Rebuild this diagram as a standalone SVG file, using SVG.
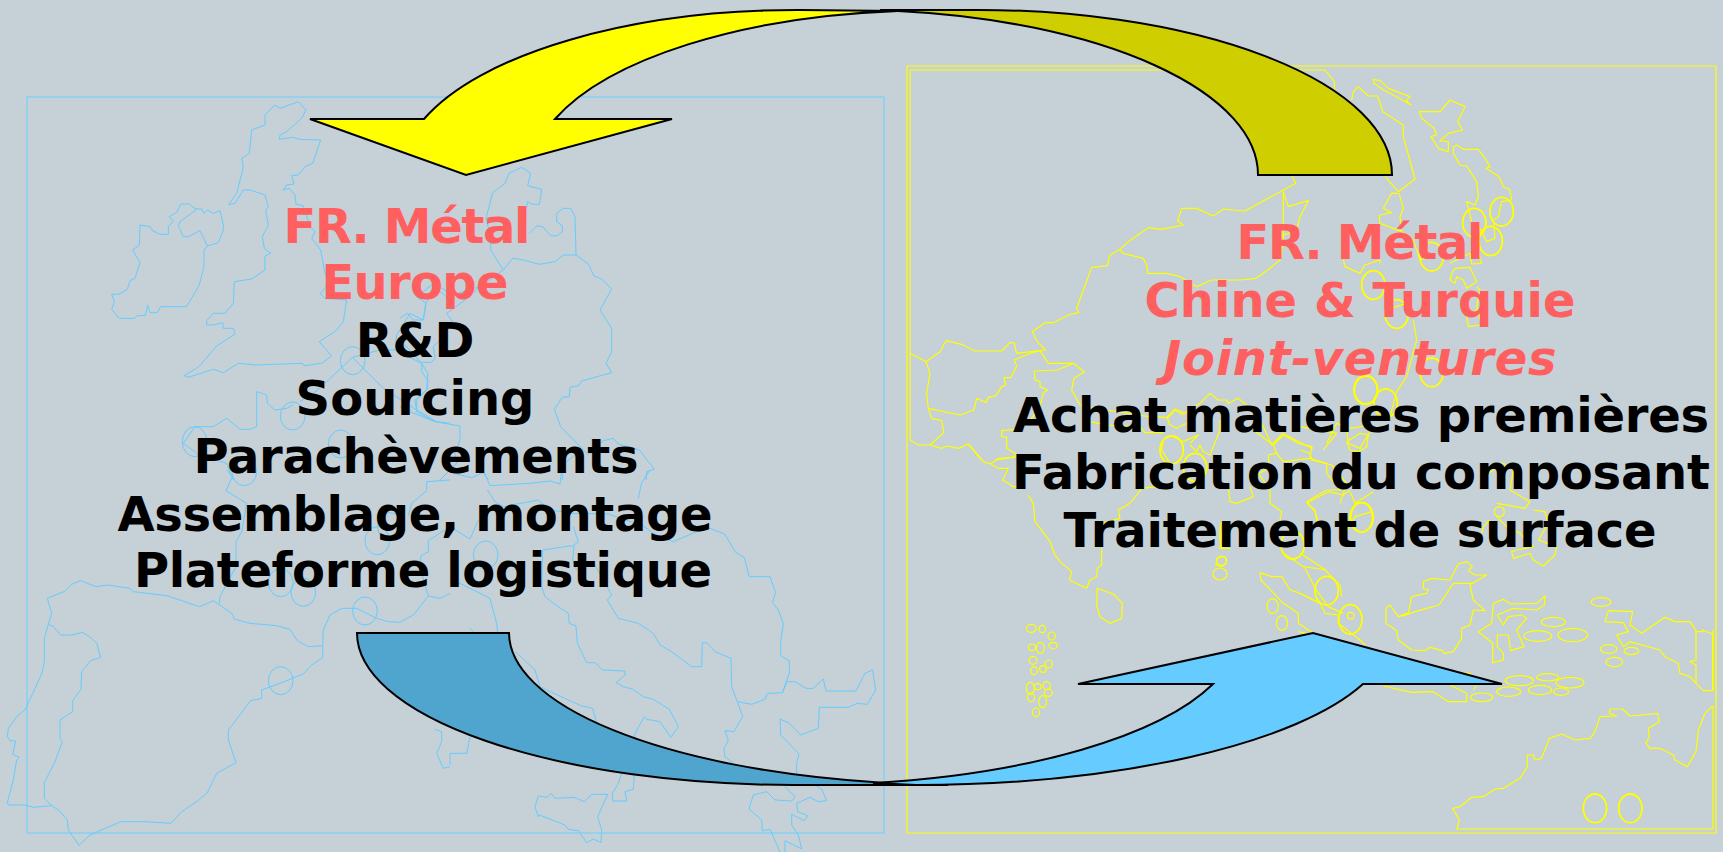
<svg xmlns="http://www.w3.org/2000/svg" width="1723" height="852" viewBox="0 0 1723 852">
<style>
.b path,.b ellipse{fill:none;stroke:#66ccff;stroke-width:1;vector-effect:non-scaling-stroke;stroke-linejoin:round}
.y path,.y ellipse{fill:none;stroke:#ffff00;stroke-width:1.2;vector-effect:non-scaling-stroke;stroke-linejoin:round}
.y ellipse.c{stroke-width:1.8}
.fb{fill:none;stroke:#7fd0f5;stroke-width:1.3}
.y path.fy{stroke-width:1.2}
.a{stroke:#000;stroke-width:2;stroke-linejoin:miter}
text{font-family:"DejaVu Sans",Verdana,sans-serif;font-weight:bold;font-size:48px;text-anchor:middle;fill:#000}
.r{fill:#ff5f5f}
.i{font-style:italic}
</style>
<rect width="1723" height="852" fill="#c5d0d7"/>
<g id="map-europe" class="b">
<rect class="fb" x="27" y="97" width="857" height="736"/>
<g transform="translate(0,80) scale(.33333)">
<path d="M686,374L710,340L730,262L725,235L748,220L755,150L795,135L795,105L825,75L840,85L895,65L918,90L905,115L860,155L840,165L838,178L880,172L898,178L962,180L938,250L915,260L895,285L875,287L882,312L860,315L850,330L868,325L885,345L888,372L910,378L930,440L945,455L935,475L962,510L975,580L990,610L960,640L975,655L1040,660L1030,725L1005,755L958,785L995,828L965,850L912,857L908,850L765,855L715,850L670,878L640,868L565,892L553,887L597,860L650,798L705,762L700,745L670,745L668,728L640,735L620,735L620,722L640,700L675,700L700,670L703,605L755,597L795,570L795,528L813,520L793,505L787,470L805,435L797,390L805,380L795,345L750,330L730,330L705,370Z"/>
<path d="M420,435L450,440L458,452L480,463L505,463L505,440L520,425L508,410L530,397L543,372L568,372L585,386L605,387L612,400L622,390L640,400L660,392L670,435L670,450L655,488L622,498L612,510L612,560L598,615L560,680L482,680L472,698L450,698L443,676L436,706L410,708L402,715L358,715L335,688L343,665L335,643L358,642L382,628L390,602L405,595L420,547L398,510L418,495Z"/>
<path d="M590,388L540,425L535,437L550,470L565,470L600,452L622,498"/>
<path d="M975,910L1057,832L1150,925L1250,990L1310,1025L1350,1030M975,910L940,940L900,965M770,935L800,945L802,970L825,990L860,985L878,975M770,935L770,1040L750,1048L720,1048L680,1015L640,1040L585,1040L550,1090L590,1120L680,1150L700,1200M1057,832L1140,810L1185,810L1265,850L1283,880L1283,925L1250,960L1250,990"/>
<path d="M1185,810L1190,765L1230,700L1270,720L1277,670L1310,615L1350,640"/>
<ellipse cx="1058" cy="842" rx="37" ry="42"/><ellipse cx="878" cy="1008" rx="37" ry="42"/><ellipse cx="584" cy="1085" rx="37" ry="45"/><ellipse cx="1022" cy="1092" rx="37" ry="42"/>
</g>
<g transform="translate(0,470) scale(.33333)">
<path d="M680,0L697,20L678,62L740,100L725,185L708,215L708,290L660,380L658,400"/>
<path d="M142,385L192,365L215,343L242,332L288,350L322,345L390,355L400,365L500,377L598,410L640,392L695,430L703,447L750,460L830,467L870,478L892,512L925,530L968,527"/>
<path d="M968,563L968,527L970,480L990,435L1025,415L1070,415L1130,445L1165,455L1198,457L1240,435L1285,378L1320,385L1350,370"/>
<path d="M968,563L935,585L910,612L840,640L785,660L785,685L752,692L685,780L685,810L708,878L650,910L622,968L590,995L545,1025L513,1060L435,1055L363,1055L270,1095L237,1126L205,1080L202,1050L178,1022L155,1007L133,985L133,938L165,875L187,815L180,808L180,750L218,725L218,692L243,658L245,605L272,572L302,562L290,520L275,505L248,487L215,495L182,495L158,468L148,465"/>
<path d="M142,385L155,430L133,505L133,575L125,612L75,720L50,740L25,775L22,800L30,812L47,813L38,853L58,862L50,870L40,930L22,998L25,1005L75,1005L100,1012L155,1007"/>
<path d="M1350,30L1280,35L1280,62L1235,100L1225,137M1285,378L1262,300L1262,258L1285,245L1285,212L1350,170M1305,778L1325,785L1325,815L1310,850L1330,895L1350,890"/>
<ellipse cx="842" cy="632" rx="37" ry="42"/><ellipse cx="1095" cy="423" rx="37" ry="42"/><ellipse cx="842" cy="338" rx="37" ry="42"/><ellipse cx="910" cy="367" rx="37" ry="42"/><ellipse cx="733" cy="5" rx="37" ry="42"/><ellipse cx="1132" cy="212" rx="37" ry="42"/><ellipse cx="1170" cy="170" rx="37" ry="42"/>
</g>
<g transform="translate(450,470) scale(.33333)">
<path d="M196,545L255,600L270,650L290,660L395,708L428,715L440,760M60,475L70,485M0,340L30,340L120,385L140,460L143,490"/>
<path d="M280,240L360,228L372,228L368,270L380,300M370,170L385,215L372,225M278,240L275,350L285,380L310,400L355,430L358,460L378,468L382,520L410,578L435,578L458,600L525,603L525,615L498,638L520,650L550,658L580,680L610,688L658,718L685,770L662,802L630,755L590,748L583,740L555,790L553,810"/>
<path d="M553,910L550,958L525,965L530,993L488,993L487,970L505,940L515,910"/>
<path d="M435,285L485,375L472,390L505,445L565,460L610,490L630,525L665,545L725,590L755,590L757,518L770,518L795,545L843,565L845,650L862,695L878,740L852,785L825,782L835,812L822,835L825,860L850,880"/>
<path d="M862,695L905,703L945,688L952,670L997,668L1018,610L1018,572L992,558L992,515L1000,462L985,420L967,398L977,368L960,320L898,320L883,263L855,245L825,193L780,175L740,185L670,215L610,190L580,168L475,132L365,130"/>
<path d="M998,668L1010,635L1035,635L1068,655L1090,655L1120,627L1128,663L1218,663L1245,610L1268,600L1277,660L1252,703L1222,700L1195,712L1108,712L1105,775L1052,795L1018,760L990,747L992,795L1047,852L1040,880L1040,915"/>
<path d="M1005,950L1035,980L1025,993L975,990L950,965L910,975L897,1017L935,1050L937,1083L960,1078L990,1146M1005,1146L1005,1112L1055,1137L1045,1095L1025,1065L1025,1033L1063,1052L1073,1037L1043,1025L1040,1000L1080,982L1105,995L1130,992L1115,957L1095,945"/>
<path d="M255,1010L265,978L292,982L303,970L315,985L372,982L403,995L425,973L473,973L443,1040L455,1080L453,1118L430,1107L410,1118L385,1082L355,1078L345,1065L268,1035L265,1040Z"/>
<path d="M100,0L120,47L240,40L300,33L330,42L335,0M600,0L575,38L565,85M112,60L135,95L160,110L265,90L300,120L370,130M0,170L60,207L85,150M0,850L50,850L60,800M0,850L0,885"/>
<ellipse cx="107" cy="255" rx="37" ry="42"/>
</g>
<g transform="translate(400,150) scale(.33333)">
<path d="M258,205L278,128L315,100L327,70L365,52L392,70L383,107L425,118L418,163L398,163L382,155L378,200M258,205L272,260L272,300L310,360L338,325L370,330L418,343L465,335L490,315L528,315"/>
<path d="M388,250L410,228L428,230L452,257L472,257L487,245L487,228L470,215L470,190L490,175L512,175L525,200L528,315L565,342L582,378L605,387L635,417L600,480L635,535L635,605L618,640L635,668L545,693L535,707L510,712L508,740L487,742L463,778L482,830L565,915L610,872L640,865L655,882L718,900L763,958L740,965L738,990"/>
<path d="M310,360L240,410L195,450L140,490L158,515L120,570L100,590L105,625L95,637L62,637L20,590L0,575M65,640L65,665L82,690L80,720L45,750L50,785L105,815L180,828L180,870L165,910L170,940L120,990M0,770L30,785L105,815M78,460L70,510L40,510L22,490L0,505M78,460L50,440L95,405L140,440L240,410M160,970L215,983L250,968L265,990M487,990L487,945L525,915"/>
</g>
</g>
<g id="map-asia" class="y">
<path class="fy" d="M1325,66H1716V833H907V66H1325"/>
<path class="fy" d="M910,440V70H1325M1713,706V829H1457M1713,630V690"/>
<g transform="translate(900,60) scale(.33333)">
<path d="M1175,345L1187,370L1035,453L970,447L940,468L890,445L845,445L833,483L850,495L785,508L745,503L685,545L660,568L630,585L622,617L575,622L530,745L537,757L505,765L460,788L435,788L397,815L412,845L436,870L420,872L350,880L342,848L330,848L305,873L225,873L185,853L138,842L120,875L78,905L30,880"/>
<path d="M78,905L90,940L80,1000L85,1045L180,1065L222,1050L230,1015L258,1027L265,1012L288,1007L305,980L317,975L312,953L332,953L350,918L343,900L385,882L420,872"/>
<path d="M420,872L445,910L520,910L553,935L522,955L515,990L540,1035L620,1050L700,1062L745,1070L800,1072L825,1047L855,1060L900,1030L930,1000L955,1020L980,1020L985,1030L1015,1015L1045,1040L1085,1090L1115,1155L1148,1120L1205,1150L1240,1165"/>
<path d="M660,568L668,580L730,595L742,620L742,640L800,640L840,650L890,680L935,660L1020,660L1068,655L1100,632L1140,600L1150,540L1150,395L1165,440L1225,422L1200,470L1190,510L1140,530"/>
<path d="M403,933L472,930L520,910M403,933L405,960L420,965L420,980L442,990L430,1000L420,1040L395,1075L345,1108L305,1112L305,1130L320,1132L320,1165L345,1180L345,1190L290,1200"/>
<path d="M85,1045L95,1075L125,1082L132,1117L90,1155L125,1165L140,1158L175,1165L205,1152L245,1200M30,1140L55,1155L90,1155M570,1085L620,1095L690,1100M720,1100L735,1118L790,1118"/>
</g>
<g transform="translate(1050,340) scale(.33333)">
<path d="M352,235L375,210L400,225M352,235L360,255L380,265L410,250M420,310L445,285L400,305L370,290M420,315L440,335L450,315L460,335L480,345L510,270L510,240M340,300L335,330L360,370M700,285L670,315L610,270M700,285L745,310L785,320L780,355L830,370L830,400L870,450L830,450L770,485L795,515L805,545M670,315L680,340L655,345L658,385L625,400M680,340L700,365L780,355M600,440L610,470L560,490L540,485L535,440M625,400L660,450L660,490L695,515L690,540M520,545L510,625L540,625M700,640L760,680L830,690M830,310L860,250L900,265L920,262L960,255M890,305L930,280L955,285L950,320L925,335L900,330Z"/>
<ellipse class="c" cx="365" cy="330" rx="35" ry="42"/><ellipse class="c" cx="435" cy="382" rx="35" ry="42"/>
<ellipse class="c" cx="948" cy="150" rx="35" ry="42"/><ellipse class="c" cx="935" cy="532" rx="35" ry="44"/><ellipse class="c" cx="728" cy="615" rx="35" ry="42"/>
<path d="M515,650L527,652L528,670L515,680L498,675L500,655Z"/>
</g>
<g transform="translate(900,440) scale(.33333)">
<path d="M205,12L250,65L272,72L295,55L345,52M272,72L295,85L325,85L308,120L340,140L370,140M385,165L400,190L405,245L450,305L465,345L480,365L515,395L508,420L560,445L570,420L590,410L592,385L605,375L605,325M690,190L655,210L660,235L605,250M690,190L725,145L770,140"/>
<path d="M592,445L640,462L667,490L665,535L630,550L600,530L590,495Z"/>
<ellipse cx="394" cy="565" rx="15" ry="12"/><ellipse cx="427" cy="567" rx="10" ry="11"/><ellipse cx="455" cy="588" rx="11" ry="12"/><ellipse cx="459" cy="617" rx="12" ry="10"/><ellipse cx="421" cy="624" rx="12" ry="17"/><ellipse cx="396" cy="622" rx="11" ry="10"/><ellipse cx="399" cy="661" rx="12" ry="12"/><ellipse cx="402" cy="692" rx="10" ry="12"/><ellipse cx="429" cy="687" rx="10" ry="10"/><ellipse cx="446" cy="672" rx="11" ry="12"/><ellipse cx="391" cy="745" rx="12" ry="18"/><ellipse cx="413" cy="740" rx="10" ry="9"/><ellipse cx="440" cy="737" rx="11" ry="12"/><ellipse cx="445" cy="758" rx="12" ry="11"/><ellipse cx="393" cy="772" rx="11" ry="13"/><ellipse cx="428" cy="785" rx="12" ry="18"/><ellipse cx="408" cy="817" rx="11" ry="13"/>
<ellipse cx="965" cy="362" rx="15" ry="14"/><ellipse cx="960" cy="402" rx="21" ry="18"/><ellipse cx="968" cy="285" rx="8" ry="40"/>
<path d="M1195,575L1240,585M1080,398L1083,420L1150,490L1195,520L1195,550L1240,580M1080,398L1115,410L1145,410L1170,450L1195,458L1260,490"/>
<ellipse cx="1118" cy="498" rx="17" ry="22"/><ellipse cx="1146" cy="549" rx="17" ry="22"/>
</g>
<g transform="translate(1300,440) scale(.33333)">
<path d="M0,340L70,385L120,435L125,470M15,385L45,445L85,500L130,520M0,460L60,490L75,520L115,525L115,550L180,600L195,615M20,190L85,155L130,165L150,150M20,190L45,210L50,245M0,30L30,40L35,60L95,75L140,130L120,190M150,155L165,190L220,155M120,240L125,300L165,230L215,215"/>
<ellipse class="c" cx="80" cy="452" rx="35" ry="43"/><ellipse class="c" cx="151" cy="538" rx="35" ry="44"/><ellipse class="c" cx="185" cy="232" rx="33" ry="44"/><ellipse cx="152" cy="527" rx="10" ry="10"/>
<path d="M258,505L270,495L295,530L325,518L335,470L380,460L385,450L370,445L370,425L395,415L450,420L475,372L500,365L517,380L505,392L525,405L560,405L518,430L460,430L417,495L355,512L310,527L295,530M258,505L258,550L290,572L295,600L335,630L375,632L390,622L428,632L432,640L460,635L485,595L485,565L510,555L520,510L555,512L520,480L510,435L518,430"/>
<path d="M535,575L575,550L580,490L610,478L632,492L710,490L735,468L733,495L710,510L640,505L592,525L610,555L625,530L665,525L680,535L650,570L672,620L632,632L625,585L592,585L592,620L610,640L610,660L578,668L578,610Z"/>
<ellipse cx="760" cy="546" rx="36" ry="14"/><ellipse cx="713" cy="588" rx="42" ry="16"/><ellipse cx="818" cy="585" rx="44" ry="20"/><ellipse cx="903" cy="486" rx="30" ry="13"/><ellipse cx="926" cy="627" rx="25" ry="13"/><ellipse cx="994" cy="633" rx="22" ry="11"/><ellipse cx="943" cy="666" rx="25" ry="14"/>
<ellipse cx="658" cy="722" rx="42" ry="15"/><ellipse cx="743" cy="712" rx="33" ry="11"/><ellipse cx="810" cy="728" rx="42" ry="16"/><ellipse cx="720" cy="750" rx="35" ry="14"/><ellipse cx="783" cy="755" rx="23" ry="11"/><ellipse cx="626" cy="755" rx="36" ry="14"/><ellipse cx="545" cy="772" rx="33" ry="13"/>
<path d="M250,738L335,757L400,755L445,785L500,785L500,760L450,735M520,750L540,720M480,700L510,700L530,720"/>
<path d="M915,545L925,512L998,515L990,555L1025,580L1095,532L1125,545L1170,545L1188,572L1188,660L1170,665L1188,675L1188,730L1210,752L1238,752L1238,582L1208,570L1208,575L1188,575M1188,730L1170,710L1140,700L1135,670L1095,650L1080,630L990,605L970,620L950,585L985,575L970,548L915,545"/>
<path d="M470,1168L478,1140L458,1105L480,1100L515,1072L550,1070L585,1047L610,1045L660,1015L682,980L682,945L700,945L705,960L725,955L748,895L785,882L825,900L870,895L885,875L900,830L950,828L928,820L930,807L968,807L990,828L1073,820L1078,845L1045,865L1048,890L1038,910L1050,925L1080,925L1120,945L1125,960L1162,980L1188,935L1195,870L1215,820L1238,798"/>
<ellipse class="c" cx="885" cy="1105" rx="35" ry="43"/><ellipse class="c" cx="991" cy="1105" rx="35" ry="43"/>
<path d="M565,100L610,70L640,90L630,150L690,185L675,205L590,190M570,240L550,260L545,280M700,210L735,215L745,250L715,300L770,320L765,345L730,378L700,360L690,340L640,355L635,335L650,330L700,320L660,280L620,260L590,230"/>
<ellipse cx="598" cy="215" rx="15" ry="15"/>
</g>
<g transform="translate(1300,60) scale(.33333)">
<path d="M75,30L103,65L103,90M155,120L160,95L175,80L205,108L233,108L248,155L310,195L310,230L345,357L295,395L255,350"/>
<path d="M220,58L240,62L265,85L330,110L318,122L333,135L280,105L250,90L222,70Z"/>
<path d="M358,155L420,155L450,120L495,140L473,185L488,210L445,220L420,243L445,245L445,275L415,265L393,230L410,225L402,205L365,175Z"/>
<path d="M460,280L460,262L470,255L490,268L535,268L555,295L570,320L558,325L597,350L610,380L630,390L635,420L605,425L595,470L580,480L585,535L560,545L545,515L530,490M460,280L480,315L500,318L530,365L535,410L525,435L500,425L515,485L520,540L545,610L515,612L510,580L450,610"/>
<path d="M455,640L465,625L510,622L530,665L500,685L490,660L470,650L465,670L450,660Z"/>
<path d="M530,680L540,690L530,740L545,795L505,800L500,770L530,750"/>
<path d="M295,400L275,400L250,445L275,458L238,465L240,490L305,515L340,540L360,600L395,590M297,400L310,445L300,470L305,515M130,600L135,620L180,640L195,615L240,600L240,610M340,760L320,730L272,745M340,780L350,840L320,950L290,995L270,1070M140,1110L145,1150L180,1165L210,1115L200,1080M70,1170L110,1120L0,1100"/>
<ellipse class="c" cx="605" cy="455" rx="35" ry="43"/><ellipse class="c" cx="523" cy="488" rx="35" ry="43"/><ellipse class="c" cx="572" cy="543" rx="35" ry="44"/><ellipse class="c" cx="395" cy="590" rx="35" ry="43"/><ellipse class="c" cx="220" cy="675" rx="35" ry="43"/><ellipse class="c" cx="290" cy="762" rx="35" ry="43"/><ellipse class="c" cx="395" cy="937" rx="35" ry="43"/><ellipse class="c" cx="197" cy="990" rx="35" ry="43"/><ellipse class="c" cx="257" cy="1030" rx="35" ry="43"/>
</g>
</g>
<g id="connectors">
<path id="top-back" class="a" fill="#cece00" d="M1392,175H1258A410,165 0 0 0 898,11L880,10H962A415,165 0 0 1 1392,175Z"/>
<path id="top-front" class="a" fill="#ffff00" d="M424,119H310L466,175L672,119H555A401,165 0 0 1 898,11L800,10A397,165 0 0 0 424,119Z"/>
<path id="bottom-back" class="a" fill="#50a5cf" d="M357,633H509A448,152 0 0 0 873,782L900,785H948L793,785A436,152 0 0 1 357,633Z"/>
<path id="bottom-front" class="a" fill="#66ccff" d="M1078,684H1213A436,152 0 0 1 873,783L916,785A475,152 0 0 0 1363,684H1502L1313,633Z"/>
</g>
<g id="node-europe">
<text class="r" x="407" y="243" textLength="247">FR. Métal</text>
<text class="r" x="415" y="299" textLength="187">Europe</text>
<text x="415" y="357">R&amp;D</text>
<text x="415" y="415">Sourcing</text>
<text x="416" y="473" textLength="445">Parachèvements</text>
<text x="415" y="531" textLength="595">Assemblage, montage</text>
<text x="423" y="587" textLength="578">Plateforme logistique</text>
</g>
<g id="node-asia">
<text class="r" x="1360" y="259" textLength="247">FR. Métal</text>
<text class="r" x="1360" y="317" textLength="431">Chine &amp; Turquie</text>
<text class="r i" x="1360" y="375" textLength="393">Joint-ventures</text>
<text x="1361" y="432" textLength="696">Achat matières premières</text>
<text x="1361" y="489" textLength="698">Fabrication du composant</text>
<text x="1360" y="547" textLength="593">Traitement de surface</text>
</g>
</svg>
